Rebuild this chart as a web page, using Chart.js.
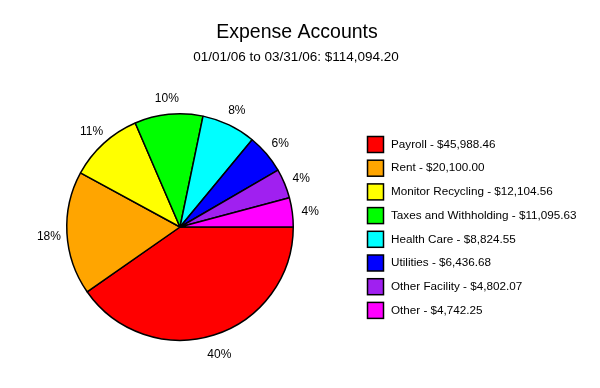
<!DOCTYPE html>
<html>
<head>
<meta charset="utf-8">
<script src="https://cdn.jsdelivr.net/npm/chart.js@4"></script>
<style>
  body { margin: 0; background: #fff; }
  #wrap { width: 600px; height: 388px; position: relative; }
</style>
</head>
<body>
<div id="wrap"><canvas id="expenseChart"></canvas></div>
<script>
// Expense accounts, 01/01/06 - 03/31/06
const accounts = [
  "Payroll", "Rent", "Monitor Recycling", "Taxes and Withholding",
  "Health Care", "Utilities", "Other Facility", "Other"
];
const amounts = [45988.46, 20100.00, 12104.56, 11095.63, 8824.55, 6436.68, 4802.07, 4742.25];
const sliceColors = ["#ff0000", "#ffa500", "#ffff00", "#00ff00", "#00ffff", "#0000ff", "#a020f0", "#ff00ff"];

const FONT = "'Liberation Sans', Arial, Helvetica, sans-serif";
const total = amounts.reduce((a, b) => a + b, 0);
const money = (v) => "$" + v.toLocaleString("en-US", { minimumFractionDigits: 2, maximumFractionDigits: 2 });

// title + subtitle centred on the whole canvas
const headings = {
  id: "headings",
  afterDraw(chart) {
    const ctx = chart.ctx;
    ctx.save();
    ctx.fillStyle = "#000";
    ctx.textAlign = "center";
    ctx.textBaseline = "alphabetic";
    ctx.font = "19.5px " + FONT;
    ctx.fillText("Expense Accounts", 297, 37.5);
    ctx.font = "13.5px " + FONT;
    ctx.fillText("01/01/06 to 03/31/06: " + money(total), 296, 61);
    ctx.restore();
  }
};

// percent labels outside each slice
const outsideLabels = {
  id: "outsideLabels",
  afterDatasetsDraw(chart) {
    const ctx = chart.ctx;
    const meta = chart.getDatasetMeta(0);
    ctx.save();
    ctx.font = "12px " + FONT;
    ctx.fillStyle = "#000";
    ctx.textAlign = "center";
    ctx.textBaseline = "middle";
    meta.data.forEach((arc, i) => {
      const p = arc.getProps(["x", "y", "startAngle", "endAngle", "outerRadius"], true);
      const mid = (p.startAngle + p.endAngle) / 2;
      const r = p.outerRadius + 18;
      const pct = Math.round(amounts[i] / total * 100) + "%";
      ctx.fillText(pct, p.x + Math.cos(mid) * r, p.y + 2 + Math.sin(mid) * r);
    });
    ctx.restore();
  }
};

// legend on the right
const sideLegend = {
  id: "sideLegend",
  afterDraw(chart) {
    const ctx = chart.ctx;
    ctx.save();
    ctx.font = "11.7px " + FONT;
    ctx.textBaseline = "middle";
    accounts.forEach((name, i) => {
      const cy = 144.5 + i * 23.7;
      ctx.fillStyle = sliceColors[i];
      ctx.fillRect(367.5, cy - 8, 16, 16);
      ctx.strokeStyle = "#000";
      ctx.lineWidth = 1.5;
      ctx.strokeRect(367.5, cy - 8, 16, 16);
      ctx.fillStyle = "#000";
      ctx.fillText(name + " - " + money(amounts[i]), 391, cy);
    });
    ctx.restore();
  }
};

new Chart(document.getElementById("expenseChart"), {
  type: "pie",
  data: {
    labels: accounts,
    datasets: [{
      data: amounts,
      backgroundColor: sliceColors,
      borderColor: "#000",
      borderWidth: 1.5
    }]
  },
  options: {
    responsive: true,
    maintainAspectRatio: false,
    animation: false,
    rotation: 90,
    layout: { padding: { left: 66, right: 306, top: 113, bottom: 47 } },
    plugins: {
      legend: { display: false },
      tooltip: { enabled: false },
      title: { display: false }
    }
  },
  plugins: [headings, outsideLabels, sideLegend]
});
</script>
</body>
</html>
